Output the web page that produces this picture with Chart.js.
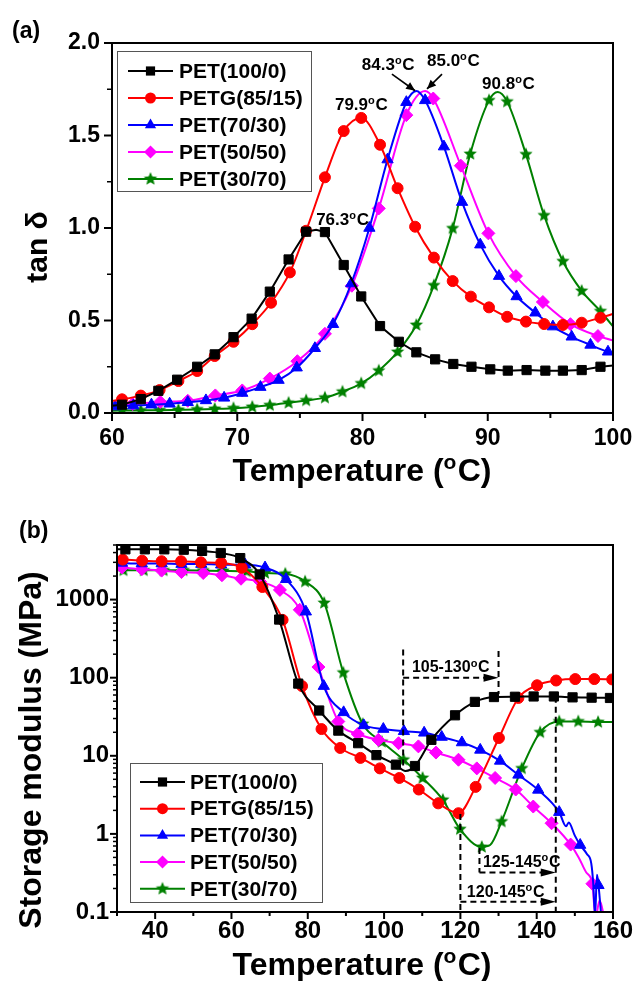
<!DOCTYPE html>
<html>
<head>
<meta charset="utf-8">
<script src="https://cdn.jsdelivr.net/npm/chart.js@4.4.0/dist/chart.umd.min.js"></script>
<style>
  html, body { margin: 0; padding: 0; background: #fff; }
  .panel { position: absolute; left: 0; width: 636px; }
  #panelA { top: 0; height: 490px; }
  #panelB { top: 490px; height: 491px; }
</style>
</head>
<body>
<div class="panel" id="panelA"><canvas id="chartA" width="636" height="490"></canvas></div>
<div class="panel" id="panelB"><canvas id="chartB" width="636" height="491"></canvas></div>
<script>
// ---- data ----
const seriesNames = ['PET(100/0)', 'PETG(85/15)', 'PET(70/30)', 'PET(50/50)', 'PET(30/70)'];

// (a) tan delta vs temperature
const aTemp100 = [59.3, 60.8, 62.3, 63.7, 65.2, 66.8, 68.2, 69.7, 71.15, 72.6, 74.1, 75.5, 77.0, 78.5, 79.9, 81.4, 82.9, 84.3, 85.8, 87.25, 88.7, 90.2, 91.6, 93.1, 94.6, 96.0, 97.5, 99.0, 100.45];
const aTan100  = [0.035, 0.045, 0.075, 0.12, 0.18, 0.25, 0.317, 0.41, 0.51, 0.656, 0.83, 0.98, 0.978, 0.80, 0.63, 0.47, 0.385, 0.328, 0.29, 0.265, 0.25, 0.236, 0.229, 0.232, 0.229, 0.229, 0.232, 0.25, 0.26];
const aTemp85 = [59.3, 60.8, 62.3, 63.8, 65.3, 66.8, 68.2, 69.7, 71.2, 72.7, 74.2, 75.5, 77.0, 78.5, 79.9, 81.4, 82.8, 84.2, 85.7, 87.2, 88.65, 90.1, 91.55, 93.05, 94.5, 96.0, 97.5, 99.0, 100.45];
const aTan85  = [0.058, 0.074, 0.094, 0.124, 0.173, 0.227, 0.308, 0.385, 0.48, 0.596, 0.76, 0.985, 1.274, 1.524, 1.595, 1.45, 1.215, 1.007, 0.84, 0.713, 0.629, 0.571, 0.52, 0.494, 0.481, 0.476, 0.488, 0.515, 0.545];
const aTemp70 = [58.8, 60.25, 61.7, 63.15, 64.6, 66.05, 67.5, 68.95, 70.4, 71.85, 73.3, 74.75, 76.2, 77.65, 79.1, 80.55, 82.0, 83.5, 85.0, 86.5, 87.95, 89.4, 90.9, 92.3, 93.8, 95.2, 96.7, 98.2, 99.6, 101.05];
const aTan70  = [0.03, 0.035, 0.04, 0.045, 0.05, 0.058, 0.068, 0.082, 0.108, 0.14, 0.178, 0.245, 0.35, 0.48, 0.70, 1.0, 1.37, 1.68, 1.69, 1.44, 1.14, 0.91, 0.74, 0.63, 0.542, 0.467, 0.412, 0.368, 0.331, 0.305];
const aTemp50 = [59.45, 61.65, 63.85, 66.05, 68.25, 70.4, 72.6, 74.8, 77.0, 79.15, 81.3, 83.5, 85.65, 87.85, 90.05, 92.25, 94.4, 96.6, 98.8, 101.0];
const aTan50  = [0.04, 0.048, 0.06, 0.066, 0.095, 0.122, 0.186, 0.28, 0.428, 0.688, 1.106, 1.61, 1.70, 1.337, 0.971, 0.74, 0.60, 0.48, 0.416, 0.375];
const aTemp30 = [59.3, 60.8, 62.3, 63.8, 65.3, 66.8, 68.2, 69.7, 71.2, 72.6, 74.1, 75.5, 77.0, 78.4, 79.9, 81.3, 82.8, 84.3, 85.7, 87.2, 88.6, 90.1, 91.55, 93.05, 94.5, 96.0, 97.5, 99.0, 100.45];
const aTan30  = [0.012, 0.013, 0.014, 0.015, 0.017, 0.019, 0.022, 0.026, 0.033, 0.042, 0.055, 0.068, 0.083, 0.115, 0.16, 0.229, 0.33, 0.476, 0.69, 0.998, 1.40, 1.69, 1.683, 1.398, 1.068, 0.82, 0.66, 0.55, 0.43];

// labelled tan delta peaks (one per series)
const aPeakTemp = [76.3, 79.9, 84.3, 85.0, 90.8];
const aPeakTan  = [0.99, 1.60, 1.74, 1.74, 1.735];
// where the peak labels sit (left edge, baseline)
const aPeakLabelT = [76.3, 77.8, 79.95, 85.15, 89.55];
const aPeakLabelV = [1.016, 1.638, 1.854, 1.876, 1.751];
// arrows for the two crowded peaks
const aArrowFrom = [[82.35, 1.832], [86.35, 1.832]];
const aArrowTo   = [[84.2, 1.742], [85.15, 1.752]];

// (b) storage modulus vs temperature
const bTemp100 = [32.2, 37.3, 42.4, 47.5, 52.3, 57.2, 62.3, 67.4, 72.5, 77.5, 83.0, 88.0, 93.2, 98.0, 103.1, 108.1, 112.4, 118.6, 123.8, 128.8, 134.3, 139.2, 144.5, 149.4, 154.4, 159.2];
const bMod100  = [4400, 4400, 4400, 4350, 4200, 3950, 3400, 2100, 555, 84, 38, 21, 14.5, 10.2, 7.7, 7.4, 16, 33, 49, 56.5, 57, 57.5, 57.5, 56, 55.5, 55];
const bFineTemp100 = [30.0, 105.6];
const bFineMod100  = [4400, 6.4];
const bTemp85 = [31.5, 36.6, 41.7, 46.8, 52.0, 57.3, 62.7, 68.1, 73.4, 78.5, 83.6, 88.5, 93.8, 98.9, 104.0, 109.1, 114.2, 119.5, 124.0, 130.1, 135.2, 140.1, 145.1, 150.1, 155.1, 159.8];
const bMod85  = [3250, 3150, 3100, 3100, 3000, 2950, 2550, 1450, 550, 78, 22, 12.6, 9.4, 6.9, 5.2, 3.7, 2.46, 1.84, 4.0, 16.9, 55, 80, 92, 96, 96, 95];
const bFineTemp85 = [30.0];
const bFineMod85  = [3300];
const bTemp70 = [31.3, 36.5, 41.7, 46.9, 52.1, 57.3, 63.6, 68.8, 74.3, 79.5, 84.2, 89.4, 94.7, 99.8, 105.2, 110.5, 115.1, 120.4, 125.2, 130.4, 135.2, 140.4, 145.9, 151.4, 156.2];
const bMod70  = [2950, 2900, 2900, 2850, 2850, 2800, 2800, 2570, 1820, 700, 78, 36, 24.5, 22, 20.6, 19.7, 17.4, 14.8, 11.9, 8.6, 5.7, 3.66, 1.9, 0.72, 0.22];
const bFineTemp70 = [30.0, 147.7, 148.4, 150.0, 153.2, 154.3, 154.8, 155.3, 155.8, 157.0];
const bFineMod70  = [3000, 1.25, 1.4, 0.95, 0.55, 0.42, 0.24, 0.09, 0.3, 0.08];
const bTemp50 = [31.3, 36.5, 41.7, 46.9, 52.6, 57.5, 62.5, 67.5, 72.7, 77.9, 82.8, 88.0, 93.1, 98.5, 103.8, 109.0, 113.6, 119.5, 124.3, 129.1, 134.5, 139.1, 143.9, 148.9, 154.6];
const bMod50  = [2580, 2450, 2350, 2250, 2190, 2050, 1850, 1700, 1330, 740, 137, 27.5, 19, 16, 14.5, 13.2, 11, 8.9, 6.9, 5.2, 3.7, 2.24, 1.37, 0.73, 0.23];
const bFineTemp50 = [30.0, 151.0, 153.0, 155.4, 156.5, 158.0];
const bFineMod50  = [2600, 0.5, 0.32, 0.085, 0.14, 0.07];
const bTemp30 = [31.7, 37.0, 42.2, 47.4, 52.6, 57.8, 64.0, 68.8, 74.1, 79.3, 84.3, 89.3, 94.4, 99.4, 105.1, 110.1, 115.4, 119.9, 125.6, 130.8, 136.1, 140.9, 145.9, 150.9, 156.1];
const bMod30  = [2370, 2370, 2370, 2370, 2350, 2330, 2300, 2190, 2140, 1700, 905, 116, 25.5, 15.1, 8.9, 5.2, 2.73, 1.15, 0.68, 1.44, 6.9, 20, 27.5, 27.5, 27];
const bFineTemp30 = [30.0, 127.8, 160.5];
const bFineMod30  = [2370, 0.72, 27];

// dashed guides in (b): vertical [T, from, to], arrows [T start, T end, modulus]
const bGuideV = [[105, 230, 7.0], [130, 220, 62], [145, 57, 0.1], [120, 1.8, 0.1], [125, 0.66, 0.32]];
const bGuideArrows = [[105, 130, 100], [125, 145, 0.32], [120, 145, 0.135]];
const bRangeLabelAt = [[107.3, 117], [125.9, 0.38], [121.7, 0.157]];

// ticks
const aXTicks = [60, 70, 80, 90, 100];
const aYTicks = [0, 0.5, 1.0, 1.5, 2.0];
const bXTicks = [40, 60, 80, 100, 120, 140, 160];
const bYTicks = [0.1, 1, 10, 100, 1000];

// ---- styling ----
const FONT = '"Liberation Sans", Arial, Helvetica, sans-serif';
Chart.defaults.font.family = FONT;
Chart.defaults.font.weight = 'bold';
Chart.defaults.color = '#000';

const seriesColors = ['#000000', '#ff0000', '#0000ff', '#ff00ff', '#008000'];
const seriesMarkers = ['rect', 'circle', 'triangle', 'rectRot', 'star'];
const markerSizes = [6.5, 5.5, 6.5, 6.5, 7];

function makeStar(color, r) {
    const c = document.createElement('canvas');
    const s = Math.ceil(r * 2) + 2;
    c.width = s; c.height = s;
    const g = c.getContext('2d');
    g.fillStyle = color;
    g.beginPath();
    for (let i = 0; i < 10; i++) {
        const rad = i % 2 === 0 ? r : r * 0.45;
        const a = -Math.PI / 2 + i * Math.PI / 5;
        const px = s / 2 + rad * Math.cos(a), py = s / 2 + rad * Math.sin(a);
        if (i === 0) g.moveTo(px, py); else g.lineTo(px, py);
    }
    g.closePath();
    g.fill();
    return c;
}
const starImg = makeStar(seriesColors[4], markerSizes[4]);

// markers on the measured points, none on the in-between detail points
function buildPoints(temps, vals, fineT, fineV) {
    const pts = temps.map((t, i) => ({ x: t, y: vals[i], marker: true }));
    (fineT || []).forEach((t, i) => {
        if (!pts.some(p => Math.abs(p.x - t) < 0.2)) pts.push({ x: t, y: fineV[i], marker: false });
    });
    return pts.sort((a, b) => a.x - b.x);
}

function makeDataset(k, pts, straight) {
    const r = markerSizes[k];
    const ds = {
        label: seriesNames[k],
        data: pts,
        borderColor: seriesColors[k],
        backgroundColor: seriesColors[k],
        borderWidth: 2,
        pointStyle: seriesMarkers[k] === 'star' ? starImg : seriesMarkers[k],
        pointRadius: ctx => (ctx.raw && ctx.raw.marker) ? r : 0,
        pointBorderWidth: 1,
        pointBorderColor: seriesColors[k],
        pointBackgroundColor: seriesColors[k]
    };
    if (straight) ds.tension = 0; else ds.cubicInterpolationMode = 'monotone';
    return ds;
}

function drawMarker(ctx, k, x, y) {
    const style = seriesMarkers[k], r = markerSizes[k];
    if (style === 'star') { ctx.drawImage(starImg, x - starImg.width / 2, y - starImg.height / 2); return; }
    ctx.fillStyle = seriesColors[k];
    ctx.beginPath();
    if (style === 'rect') {
        const h = r * Math.SQRT1_2;
        ctx.rect(x - h, y - h, 2 * h, 2 * h);
    } else if (style === 'circle') {
        ctx.arc(x, y, r, 0, Math.PI * 2);
    } else if (style === 'triangle') {
        for (let i = 0; i < 3; i++) {
            const a = -Math.PI / 2 + i * 2 * Math.PI / 3;
            if (i === 0) ctx.moveTo(x + r * Math.cos(a), y + r * Math.sin(a));
            else ctx.lineTo(x + r * Math.cos(a), y + r * Math.sin(a));
        }
        ctx.closePath();
    } else if (style === 'rectRot') {
        ctx.moveTo(x, y - r); ctx.lineTo(x + r, y); ctx.lineTo(x, y + r); ctx.lineTo(x - r, y);
        ctx.closePath();
    }
    ctx.fill();
}

// text where '°' is set as a raised small 'o'
function drawDegText(ctx, text, x, y, size, align) {
    const parts = text.split('°');
    const big = `bold ${size}px ${FONT}`;
    const small = `bold ${Math.round(size * 0.66)}px ${FONT}`;
    ctx.font = big;
    const w0 = ctx.measureText(parts[0]).width;
    const w2 = parts.length > 1 ? ctx.measureText(parts[1]).width : 0;
    ctx.font = small;
    const w1 = parts.length > 1 ? ctx.measureText('o').width + size * 0.04 : 0;
    const total = w0 + w1 + w2;
    const sx = align === 'center' ? x - total / 2 : x;
    ctx.textAlign = 'left';
    ctx.textBaseline = 'alphabetic';
    ctx.fillStyle = '#000';
    ctx.font = big;
    ctx.fillText(parts[0], sx, y);
    if (parts.length > 1) {
        ctx.font = small;
        ctx.fillText('o', sx + w0, y - size * 0.36);
        ctx.font = big;
        ctx.fillText(parts[1], sx + w0 + w1, y);
    }
}

function arrowHead(ctx, x0, y0, x1, y1, len, half) {
    const a = Math.atan2(y1 - y0, x1 - x0);
    ctx.beginPath();
    ctx.moveTo(x1, y1);
    ctx.lineTo(x1 - len * Math.cos(a) + half * Math.sin(a), y1 - len * Math.sin(a) - half * Math.cos(a));
    ctx.lineTo(x1 - len * Math.cos(a) - half * Math.sin(a), y1 - len * Math.sin(a) + half * Math.cos(a));
    ctx.closePath();
    ctx.fill();
}

function drawLegend(ctx, lg) {
    const [x0, y0, x1, y1] = lg.box;
    ctx.fillStyle = '#fff';
    ctx.fillRect(x0, y0, x1 - x0, y1 - y0);
    ctx.strokeStyle = '#555';
    ctx.lineWidth = 1;
    ctx.strokeRect(x0 + 0.5, y0 + 0.5, x1 - x0, y1 - y0);
    seriesNames.forEach((name, k) => {
        const y = lg.rowY0 + k * lg.rowGap;
        ctx.strokeStyle = seriesColors[k];
        ctx.lineWidth = 2;
        ctx.beginPath();
        ctx.moveTo(lg.lineX0, y);
        ctx.lineTo(lg.lineX1, y);
        ctx.stroke();
        drawMarker(ctx, k, (lg.lineX0 + lg.lineX1) / 2, y);
        ctx.fillStyle = '#000';
        ctx.font = `bold 21px ${FONT}`;
        ctx.textAlign = 'left';
        ctx.textBaseline = 'middle';
        ctx.fillText(name, lg.textX, y + 1);
    });
}

// frame, outward ticks, titles, legend, notes
function panelDecor(p) {
    return {
        id: 'panelDecor',
        afterDatasetsDraw(chart) {
            const ctx = chart.ctx, area = chart.chartArea;
            const xs = chart.scales.x, ys = chart.scales.y;
            ctx.save();
            p.notes(ctx, xs, ys);
            drawLegend(ctx, p.legend);

            ctx.strokeStyle = '#000';
            ctx.lineWidth = 2;
            ctx.setLineDash([]);
            ctx.strokeRect(area.left, area.top, area.right - area.left, area.bottom - area.top);

            p.xMajor.forEach(v => {
                const px = xs.getPixelForValue(v);
                ctx.beginPath(); ctx.moveTo(px, area.bottom); ctx.lineTo(px, area.bottom + p.tickMajor); ctx.stroke();
            });
            p.xMinor.forEach(v => {
                const px = xs.getPixelForValue(v);
                ctx.beginPath(); ctx.moveTo(px, area.bottom); ctx.lineTo(px, area.bottom + p.tickMinor); ctx.stroke();
            });
            p.yMajor.forEach(v => {
                const py = ys.getPixelForValue(v);
                ctx.beginPath(); ctx.moveTo(area.left - p.tickMajor, py); ctx.lineTo(area.left, py); ctx.stroke();
            });
            ctx.lineWidth = 1.5;
            p.yMinor.forEach(v => {
                const py = ys.getPixelForValue(v);
                ctx.beginPath(); ctx.moveTo(area.left - p.tickMinor, py); ctx.lineTo(area.left, py); ctx.stroke();
            });

            // panel tag
            ctx.fillStyle = '#000';
            ctx.font = `bold 23px ${FONT}`;
            ctx.textAlign = 'left';
            ctx.textBaseline = 'alphabetic';
            ctx.fillText(p.tag, p.tagPos[0], p.tagPos[1]);

            // axis titles
            drawDegText(ctx, 'Temperature (°C)', p.xTitle[0], p.xTitle[1], 32, 'center');
            ctx.save();
            ctx.translate(p.yTitle[0], p.yTitle[1]);
            ctx.rotate(-Math.PI / 2);
            ctx.font = `bold ${p.yTitleSize}px ${FONT}`;
            ctx.textAlign = 'center';
            ctx.textBaseline = 'alphabetic';
            ctx.fillText(p.yTitleText, 0, 0);
            ctx.restore();
            ctx.restore();
        }
    };
}

function axisCommon(fontSize, pad) {
    return {
        grid: { display: false, drawTicks: false },
        border: { display: false },
        ticks: { font: { size: fontSize, weight: 'bold' }, color: '#000', padding: pad, maxRotation: 0, autoSkip: false }
    };
}

// ---- panel (a) ----
const aData = [
    buildPoints(aTemp100, aTan100, [aPeakTemp[0]], [aPeakTan[0]]),
    buildPoints(aTemp85, aTan85, [aPeakTemp[1]], [aPeakTan[1]]),
    buildPoints(aTemp70, aTan70, [aPeakTemp[2]], [aPeakTan[2]]),
    buildPoints(aTemp50, aTan50, [aPeakTemp[3]], [aPeakTan[3]]),
    buildPoints(aTemp30, aTan30, [aPeakTemp[4]], [aPeakTan[4]])
];

const aX = axisCommon(23, 12);
Object.assign(aX, {
    type: 'linear', min: 60, max: 100,
    afterBuildTicks: s => { s.ticks = aXTicks.map(v => ({ value: v })); },
    afterFit: s => { s.height = 77; s.paddingLeft = 0; s.paddingRight = 0; }
});
aX.ticks.callback = v => String(v);
const aY = axisCommon(23, 12);
Object.assign(aY, {
    type: 'linear', min: 0, max: 2,
    afterBuildTicks: s => { s.ticks = aYTicks.map(v => ({ value: v })); },
    afterFit: s => { s.width = 112; s.paddingTop = 0; s.paddingBottom = 0; }
});
aY.ticks.callback = v => Number(v).toFixed(1);

new Chart(document.getElementById('chartA'), {
    type: 'line',
    data: { datasets: aData.map((pts, k) => makeDataset(k, pts, k === 0)) },
    options: {
        responsive: false,
        animation: false,
        events: [],
        layout: { padding: { top: 43, right: 23, left: 0, bottom: 0 } },
        plugins: { legend: { display: false }, tooltip: { enabled: false } },
        scales: { x: aX, y: aY }
    },
    plugins: [panelDecor({
        tag: '(a)', tagPos: [12, 38],
        xTitle: [362, 481], yTitle: [47, 247], yTitleText: 'tan δ', yTitleSize: 30,
        tickMajor: 8, tickMinor: 5,
        xMajor: aXTicks, xMinor: aXTicks.slice(1).map(v => v - 5),
        yMajor: aYTicks, yMinor: aYTicks.slice(1).map(v => v - 0.25),
        legend: { box: [117, 51, 311, 191], rowY0: 71, rowGap: 27, lineX0: 128, lineX1: 173, textX: 179 },
        notes(ctx, xs, ys) {
            aPeakTemp.forEach((t, i) => {
                drawDegText(ctx, t.toFixed(1) + '°C', xs.getPixelForValue(aPeakLabelT[i]), ys.getPixelForValue(aPeakLabelV[i]), 17, 'left');
            });
            ctx.strokeStyle = '#000';
            ctx.fillStyle = '#000';
            ctx.lineWidth = 1.6;
            aArrowFrom.forEach((f, i) => {
                const x0 = xs.getPixelForValue(f[0]), y0 = ys.getPixelForValue(f[1]);
                const x1 = xs.getPixelForValue(aArrowTo[i][0]), y1 = ys.getPixelForValue(aArrowTo[i][1]);
                ctx.beginPath(); ctx.moveTo(x0, y0); ctx.lineTo(x1, y1); ctx.stroke();
                arrowHead(ctx, x0, y0, x1, y1, 9, 4);
            });
        }
    })]
});

// ---- panel (b) ----
const bData = [
    buildPoints(bTemp100, bMod100, bFineTemp100, bFineMod100),
    buildPoints(bTemp85, bMod85, bFineTemp85, bFineMod85),
    buildPoints(bTemp70, bMod70, bFineTemp70, bFineMod70),
    buildPoints(bTemp50, bMod50, bFineTemp50, bFineMod50),
    buildPoints(bTemp30, bMod30, bFineTemp30, bFineMod30)
];

const bX = axisCommon(24, 5);
Object.assign(bX, {
    type: 'linear', min: 30, max: 160,
    afterBuildTicks: s => { s.ticks = bXTicks.map(v => ({ value: v })); },
    afterFit: s => { s.height = 69; s.paddingLeft = 0; s.paddingRight = 0; }
});
bX.ticks.callback = v => String(v);
const bY = axisCommon(24, 8);
Object.assign(bY, {
    type: 'logarithmic', min: 0.1, max: 5000,
    afterBuildTicks: s => { s.ticks = bYTicks.map(v => ({ value: v })); },
    afterFit: s => { s.width = 117; s.paddingTop = 0; s.paddingBottom = 0; }
});
bY.ticks.callback = v => (v < 1 ? Number(v).toFixed(1) : String(v));

const bYMinor = [];
bYTicks.forEach(d => { for (let m = 2; m <= 9; m++) if (m * d <= 5000) bYMinor.push(m * d); });

new Chart(document.getElementById('chartB'), {
    type: 'line',
    data: { datasets: bData.map((pts, k) => makeDataset(k, pts, false)) },
    options: {
        responsive: false,
        animation: false,
        events: [],
        layout: { padding: { top: 55, right: 23, left: 0, bottom: 0 } },
        plugins: { legend: { display: false }, tooltip: { enabled: false } },
        scales: { x: bX, y: bY }
    },
    plugins: [panelDecor({
        tag: '(b)', tagPos: [19, 48],
        xTitle: [362, 485], yTitle: [41, 260], yTitleText: 'Storage modulus (MPa)', yTitleSize: 32,
        tickMajor: 7, tickMinor: 4,
        xMajor: bXTicks, xMinor: bXTicks.map(v => v - 10),
        yMajor: bYTicks, yMinor: bYMinor,
        legend: { box: [130, 273, 322, 412], rowY0: 292, rowGap: 26.7, lineX0: 140, lineX1: 185, textX: 190 },
        notes(ctx, xs, ys) {
            ctx.strokeStyle = '#000';
            ctx.fillStyle = '#000';
            ctx.lineWidth = 2;
            ctx.setLineDash([6, 4]);
            bGuideV.forEach(g => {
                const px = xs.getPixelForValue(g[0]);
                ctx.beginPath(); ctx.moveTo(px, ys.getPixelForValue(g[1])); ctx.lineTo(px, ys.getPixelForValue(g[2])); ctx.stroke();
            });
            bGuideArrows.forEach(a => {
                const x0 = xs.getPixelForValue(a[0]), x1 = xs.getPixelForValue(a[1]), py = ys.getPixelForValue(a[2]);
                ctx.setLineDash([6, 4]);
                ctx.beginPath(); ctx.moveTo(x0, py); ctx.lineTo(x1 - 10, py); ctx.stroke();
                ctx.setLineDash([]);
                arrowHead(ctx, x0, py, x1, py, 15, 4);
            });
            ctx.setLineDash([]);
            bGuideArrows.forEach((a, i) => {
                drawDegText(ctx, `${a[0]}-${a[1]}°C`, xs.getPixelForValue(bRangeLabelAt[i][0]), ys.getPixelForValue(bRangeLabelAt[i][1]), 16, 'left');
            });
        }
    })]
});
</script>
</body>
</html>
